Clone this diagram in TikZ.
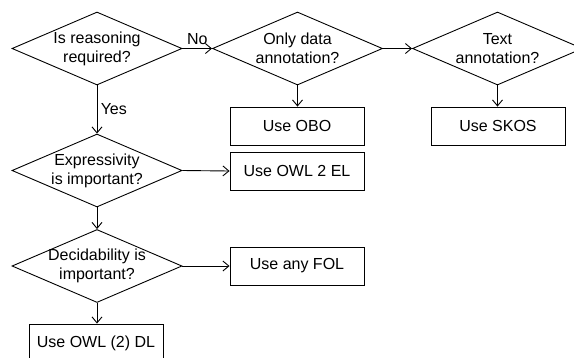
\documentclass[tikz,border=0pt]{standalone}
\usepackage{fontspec}
\setmainfont{Liberation Sans}
\usepackage{tikz}
\usetikzlibrary{arrows.meta, positioning, shapes.geometric}

\begin{document}
\begin{tikzpicture}[x=1pt, y=-1pt, line width=0.9pt,
    font=\fontsize{16}{19}\selectfont,
    decision/.style={diamond, draw, minimum width=170pt, minimum height=73pt, inner sep=0pt},
    choice/.style={rectangle, draw, minimum width=134pt, minimum height=38pt},
    flow/.style={-{Straight Barb[length=6pt, width=10pt]}}]
  \useasboundingbox (0,0) rectangle (574,357);
  % Questions
  \node[decision, label={[align=center]center:Is reasoning\\required?}] (reason) at (97,48.5) {};
  \node[decision, label={[align=center]center:Only data\\annotation?}] (data) at (297.5,48.5) {};
  \node[decision, label={[align=center]center:Text\\annotation?}] (text) at (497.5,48.5) {};
  \node[decision, label={[align=center]center:Expressivity\\is important?}] (express) at (97,170.5) {};
  \node[decision, label={[align=center]center:Decidability is\\important?}] (decide) at (97,266) {};
  % Answers
  \node[choice] (obo) at (297,126) {Use OBO};
  \node[choice] (skos) at (498,126) {Use SKOS};
  \node[choice] (el) at (297,171) {Use OWL 2 EL};
  \node[choice] (fol) at (297,266) {Use any FOL};
  \node[choice] (dl) at (96,343) {Use OWL (2) DL};
  % Arrows
  \draw[flow] (reason.east) -- node[above] {No} (data.west);
  \draw[flow] (reason.south) -- node[right] {Yes} (express.north);
  \draw[flow] (data.east) -- (text.west);
  \draw[flow] (data.south) -- (obo.north -| data.south);
  \draw[flow] (text.south) -- (skos.north -| text.south);
  \draw[flow] (express.east) -- (el.west);
  \draw[flow] (express.south) -- (decide.north);
  \draw[flow] (decide.east) -- (fol.west);
  \draw[flow] (decide.south) -- (dl.north -| decide.south);
\end{tikzpicture}
\end{document}
